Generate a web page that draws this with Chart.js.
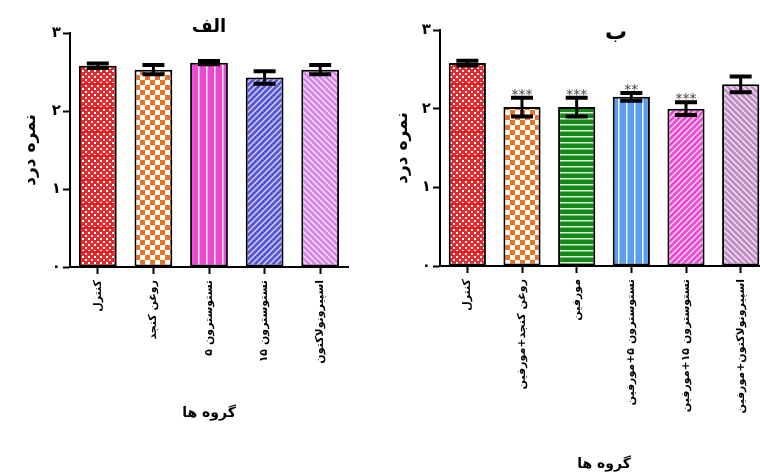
<!DOCTYPE html>
<html>
<head>
<meta charset="utf-8">
<script src="https://cdn.jsdelivr.net/npm/chart.js@4"></script>
<style>
html,body{margin:0;padding:0;background:#fff;overflow:hidden;width:760px;height:473px;}
#left{position:absolute;left:0;top:0;}
#right{position:absolute;left:380px;top:0;}
</style>
</head>
<body>
<canvas id="left" width="380" height="473"></canvas>
<canvas id="right" width="388" height="473"></canvas>
<script>
const leftLabels=['کنترل','روغن کنجد','تستوسترون ۵','تستوسترون ۱۵','اسپیرونولاکتون'];
const leftMeans=[2.58,2.53,2.62,2.43,2.53];
const leftErrors=[0.03,0.06,0.02,0.08,0.06];

const rightLabels=['کنترل','روغن کنجد+مورفین','مورفین','تستوسترون ۵+مورفین','تستوسترون ۱۵+مورفین','اسپیرونولاکتون+مورفین'];
const rightMeans=[2.58,2.02,2.02,2.15,2.0,2.31];
const rightErrors=[0.03,0.12,0.12,0.05,0.08,0.1];
const rightStars=['','***','***','**','***',''];

const yTickLabels=['۰','۱','۲','۳'];
const FONT='"DejaVu Sans", sans-serif';

// pattern fills
function pat(w,h,draw){
 const c=document.createElement('canvas');
 c.width=w;c.height=h;
 const g=c.getContext('2d');
 draw(g,w,h);
 return g.createPattern(c,'repeat');
}
const redCheck=pat(6,24,(g)=>{
 g.fillStyle='#e8282c';g.fillRect(0,0,6,24);
 g.fillStyle='#fff';
 for(let y=0;y<24;y+=3)for(let x=0;x<6;x+=3){ if(((x+y)/3)%2===0) g.fillRect(x+1,y+1,2,2); }
 g.fillStyle='#e8181c';g.fillRect(0,11,6,2);
});
const orangeCheck=pat(10,10,(g)=>{
 g.fillStyle='#fff';g.fillRect(0,0,10,10);
 g.fillStyle='#ec7222';g.fillRect(0,0,5,5);g.fillRect(5,5,5,5);
});
const vlines=(col)=>pat(8,8,(g)=>{
 g.fillStyle=col;g.fillRect(0,0,8,8);
 g.fillStyle='rgba(255,255,255,0.9)';g.fillRect(6,0,1.5,8);
});
const hlines=(col)=>pat(6,6,(g)=>{
 g.fillStyle=col;g.fillRect(0,0,6,6);
 g.fillStyle='rgba(255,255,255,0.85)';g.fillRect(0,4,6,1.5);
});
const diag=(col,back)=>pat(6,6,(g)=>{
 g.fillStyle=col;g.fillRect(0,0,6,6);
 g.strokeStyle='rgba(255,255,255,0.8)';g.lineWidth=1.3;
 g.beginPath();
 if(back){g.moveTo(0,0);g.lineTo(6,6);g.moveTo(-3,3);g.lineTo(3,9);g.moveTo(3,-3);g.lineTo(9,3);}
 else{g.moveTo(0,6);g.lineTo(6,0);g.moveTo(-3,3);g.lineTo(3,-3);g.moveTo(3,9);g.lineTo(9,3);}
 g.stroke();
});

const leftFills=[redCheck,orangeCheck,vlines('#ec48d4'),diag('#5656d6',false),diag('#d486ea',true)];
const rightFills=[redCheck,orangeCheck,hlines('#138a18'),vlines('#5a9eee'),diag('#e84ed2',false),diag('#c08ec4',true)];

// error bars, stars and the panel title
const errPlugin={
 id:'errs',
 afterDatasetsDraw(chart,args,opts){
  const ctx=chart.ctx, y=chart.scales.y;
  const meta=chart.getDatasetMeta(0);
  const vals=chart.data.datasets[0].data;
  ctx.save();
  meta.data.forEach((bar,i)=>{
   const e=opts.errors[i];
   const top=y.getPixelForValue(vals[i]+e);
   const bot=y.getPixelForValue(vals[i]-e);
   ctx.strokeStyle='#000';
   ctx.lineWidth=3;
   ctx.beginPath();ctx.moveTo(bar.x,top);ctx.lineTo(bar.x,bot);ctx.stroke();
   ctx.lineWidth=4;
   ctx.beginPath();
   ctx.moveTo(bar.x-11,top);ctx.lineTo(bar.x+11,top);
   ctx.moveTo(bar.x-11,bot);ctx.lineTo(bar.x+11,bot);
   ctx.stroke();
   const s=(opts.stars||[])[i];
   if(s){
    ctx.fillStyle='#444';
    ctx.font='14px '+FONT;
    ctx.textAlign='center';ctx.textBaseline='alphabetic';
    ctx.fillText(s,bar.x,top+1);
   }
  });
  const a=chart.chartArea;
  ctx.fillStyle='#000';
  ctx.font='bold '+opts.titleSize+'px '+FONT;
  ctx.textAlign='center';ctx.textBaseline='alphabetic';
  ctx.fillText(opts.title,(a.left+a.right)/2+opts.titleDx,opts.titleY);
  ctx.restore();
 }
};

function makeChart(id,labels,means,fills,errors,stars,title,lay){
 return new Chart(document.getElementById(id),{
  type:'bar',
  data:{labels:labels,datasets:[{data:means,backgroundColor:fills,borderColor:'#000',borderWidth:2,borderSkipped:false,barPercentage:0.68,categoryPercentage:1}]},
  plugins:[errPlugin],
  options:{
   responsive:false,animation:false,
   layout:{padding:lay.padding},
   plugins:{
    legend:{display:false},tooltip:{enabled:false},title:{display:false},
    errs:{errors:errors,stars:stars,title:title,titleDx:lay.titleDx,titleY:lay.titleY,titleSize:lay.titleSize}
   },
   scales:{
    x:{
     grid:{display:true,drawOnChartArea:false,offset:false,tickLength:7,tickWidth:2,tickColor:'#000'},
     border:{color:'#000',width:2},
     ticks:{autoSkip:false,minRotation:90,maxRotation:90,padding:6,color:'#000',font:{family:FONT,size:11,weight:'bold'}},
     title:{display:true,text:'گروه ها',color:'#000',padding:0,font:{family:FONT,size:14,weight:'bold'}},
     afterFit:(s)=>{s.height=lay.xh;}
    },
    y:{
     min:0,max:3,
     grid:{display:true,drawOnChartArea:false,tickLength:7,tickWidth:2,tickColor:'#000'},
     border:{color:'#000',width:2},
     ticks:{stepSize:1,padding:2,color:'#000',font:{family:FONT,size:15,weight:'bold'},callback:(v)=>yTickLabels[v]},
     title:{display:true,text:'نمره درد',color:'#000',padding:0,font:{family:FONT,size:17,weight:'bold'}},
     afterFit:(s)=>{s.width=lay.yw;}
    }
   }
  }
 });
}

makeChart('left',leftLabels,leftMeans,leftFills,leftErrors,[],'الف',
 {padding:{left:20,right:32,top:33,bottom:51},xh:155,yw:50,titleDx:0,titleY:32,titleSize:18});
makeChart('right',rightLabels,rightMeans,rightFills,rightErrors,rightStars,'ب',
 {padding:{left:12,right:0,top:30,bottom:0},xh:207,yw:48,titleDx:12,titleY:39,titleSize:22});
</script>
</body>
</html>
